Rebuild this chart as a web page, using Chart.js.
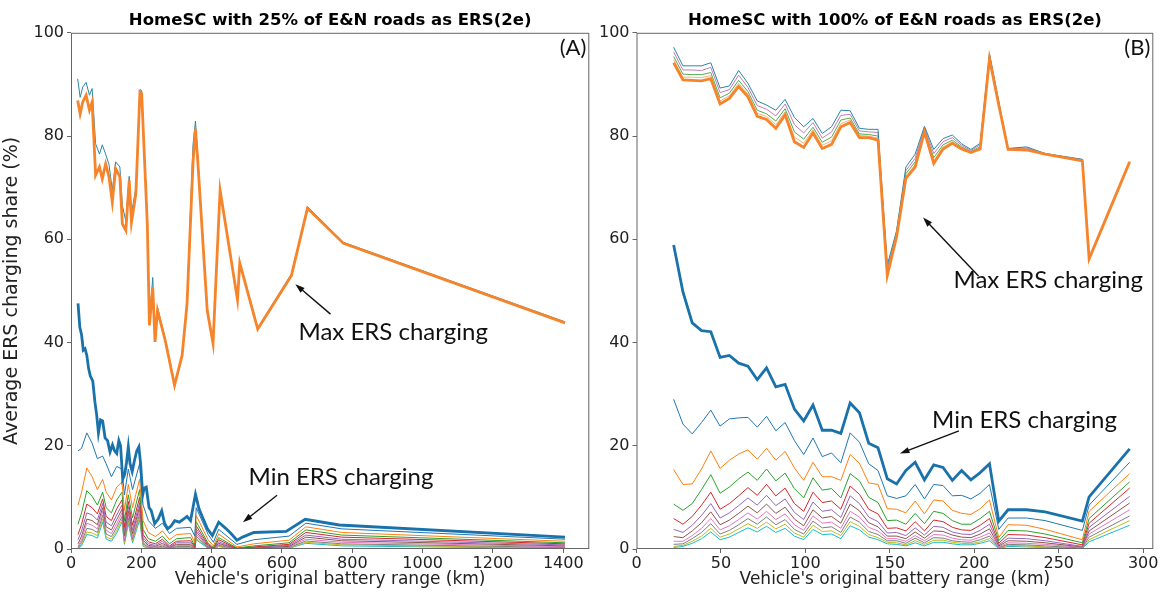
<!DOCTYPE html>
<html>
<head>
<meta charset="utf-8">
<script src="https://cdn.jsdelivr.net/npm/chart.js@4.4.1/dist/chart.umd.min.js"></script>
<style>
    body { margin: 0; background: #fff; width: 1163px; height: 592px; overflow: hidden; position: relative; }
    .panel { position: absolute; top: 0; height: 592px; }
    #panel_a { left: 0; width: 600px; }
    #panel_b { left: 595px; width: 568px; }
</style>
</head>
<body>
<div class="panel" id="panel_a"><canvas id="chart_a"></canvas></div>
<div class="panel" id="panel_b"><canvas id="chart_b"></canvas></div>
<script>

// ---- panel A : 25% of E&N roads ----
var xTicksA = [0, 200, 400, 600, 800, 1000, 1200, 1400];
var yTicks = [0, 20, 40, 60, 80, 100];

var rangeMaxA = [19, 26, 33.5, 43, 52.5, 60, 70, 81, 89, 98.5, 108, 117.5, 127, 139, 146, 156, 165.5, 172, 184.5, 196,
    201, 217, 223, 232.5, 239, 246, 268, 294.5, 316, 330, 347, 354, 361, 387.5, 404, 424, 473.5, 480, 531, 627,
    672.5, 775, 1405];
var maxA = [86.9, 84.3, 86.6, 87.9, 85.0, 86.6, 72.4, 74.0, 71.7, 74.6, 72.1, 67.2, 73.7, 72.1, 63.0, 61.7, 71.4, 63.3, 68.8, 88.5,
    88.2, 63.0, 43.3, 50.7, 40.1, 46.2, 40.4, 31.7, 37.5, 47.5, 74.9, 81.4, 74.6, 46.2, 39.8, 69.5, 48.3, 55.4, 42.6, 53.0,
    66.0, 59.2, 43.8];
var topA = [91.1, 87.5, 89.5, 90.4, 87.9, 89.2, 78.5, 76.5, 78.3, 76.5, 74.5, 69.5, 75.0, 74.0, 66.6, 63.5, 72.2, 65.0, 70.0, 89.0,
    88.8, 64.0, 44.0, 52.6, 41.0, 46.8, 40.8, 31.9, 37.7, 47.8, 78.3, 82.9, 75.5, 46.5, 40.0, 69.7, 48.5, 55.6, 42.8, 53.3,
    66.3, 59.4, 44.0];

var rangeMinA = [20, 25, 30, 35, 40, 45, 50, 55, 62, 68, 73, 78, 84, 90, 97, 104, 111, 118, 124, 130,
    136, 141, 147, 153, 158, 163, 168, 174, 180, 187, 193, 198, 204, 208, 214, 222, 228, 238, 248, 258,
    266, 275, 285, 295, 308, 320, 330, 340, 354, 364, 378, 388, 402, 420, 440, 455, 472, 488, 520, 612,
    666, 763, 1405];
var minA = [47.6, 43.0, 41.5, 38.5, 38.8, 37.5, 35.0, 33.5, 32.5, 28.5, 26.0, 22.5, 25.0, 24.8, 21.5, 21.0, 18.8, 20.2, 19.0, 18.5,
    21.0, 20.0, 13.5, 14.5, 16.8, 19.8, 16.5, 15.0, 17.0, 19.0, 19.8, 16.5, 10.5, 11.8, 12.0, 8.0, 7.5, 4.9, 5.8, 7.4,
    5.0, 3.9, 4.5, 5.5, 5.2, 5.8, 6.3, 5.5, 10.6, 7.8, 5.5, 3.9, 2.6, 5.2, 4.0, 3.0, 1.7, 2.3, 3.2, 3.4,
    5.75, 4.65, 2.3];

var rangeThinA = [20, 30, 45, 60, 75, 90, 100, 115, 130, 145, 152, 163, 175, 195, 205, 220, 240, 260, 280, 300,
    340, 352, 356, 390, 405, 420, 472, 520, 620, 668, 770, 1405];
var thinA = [
    [19.0, 19.5, 22.5, 20.5, 17.5, 18.0, 16.5, 14.0, 16.0, 15.5, 10.5, 15.5, 11.5, 16.5, 8.5, 5.5, 4.0, 5.0, 3.0, 4.0, 4.2, 2.5, 8.0, 2.8, 1.3, 3.8, 0.9, 1.8, 2.5, 5.0, 3.9, 1.9],
    [8.5, 11.0, 15.7, 14.0, 11.5, 13.5, 11.0, 9.5, 12.0, 13.0, 7.5, 12.5, 8.0, 13.5, 5.5, 3.2, 2.4, 3.5, 1.8, 2.8, 3.0, 1.2, 6.5, 1.8, 0.6, 2.9, 0.4, 1.0, 1.7, 4.3, 3.2, 1.5],
    [4.8, 7.0, 11.3, 10.2, 8.5, 11.0, 8.0, 7.0, 9.5, 11.0, 5.5, 10.5, 6.0, 11.5, 3.8, 2.0, 1.5, 2.5, 1.0, 2.0, 2.2, 0.6, 5.3, 1.1, 0.3, 2.2, 0.2, 0.6, 1.2, 3.7, 2.7, 1.2],
    [2.8, 4.8, 8.7, 8.0, 6.8, 9.7, 6.3, 5.5, 7.8, 9.5, 4.2, 9.2, 4.6, 10.0, 2.8, 1.4, 1.0, 1.9, 0.6, 1.5, 1.6, 0.4, 4.5, 0.8, 0.2, 1.8, 0.1, 0.4, 0.9, 3.2, 2.3, 1.0],
    [1.8, 3.5, 7.0, 6.6, 5.6, 8.8, 5.2, 4.5, 6.6, 8.5, 3.3, 8.2, 3.7, 9.0, 2.2, 1.0, 0.7, 1.5, 0.4, 1.2, 1.2, 0.3, 3.9, 0.6, 0.1, 1.4, 0.1, 0.3, 0.7, 2.7, 1.9, 0.8],
    [1.0, 2.5, 5.8, 5.5, 4.7, 8.0, 4.3, 3.7, 5.7, 7.7, 2.6, 7.4, 3.0, 8.2, 1.7, 0.7, 0.5, 1.1, 0.3, 0.9, 0.9, 0.2, 3.4, 0.4, 0.1, 1.1, 0.05, 0.2, 0.5, 2.3, 1.6, 0.6],
    [0.5, 1.8, 5.0, 4.6, 3.9, 7.3, 3.6, 3.0, 4.9, 7.0, 2.0, 6.7, 2.4, 7.5, 1.3, 0.5, 0.3, 0.8, 0.2, 0.7, 0.7, 0.15, 2.9, 0.3, 0.05, 0.9, 0.03, 0.15, 0.4, 1.9, 1.3, 0.45],
    [0.3, 1.3, 4.0, 3.8, 3.2, 6.5, 2.9, 2.4, 4.2, 6.3, 1.6, 6.0, 1.9, 6.8, 1.0, 0.35, 0.2, 0.6, 0.1, 0.5, 0.5, 0.1, 2.5, 0.2, 0.03, 0.7, 0.02, 0.1, 0.3, 1.55, 1.0, 0.3],
    [0.2, 0.9, 3.3, 3.1, 2.6, 5.8, 2.3, 1.9, 3.6, 5.7, 1.2, 5.4, 1.5, 6.2, 0.7, 0.25, 0.15, 0.45, 0.08, 0.35, 0.35, 0.08, 2.1, 0.15, 0.02, 0.55, 0.01, 0.08, 0.2, 1.3, 0.8, 0.2],
    [0.1, 0.6, 2.8, 2.6, 2.1, 5.2, 1.9, 1.5, 3.1, 5.2, 0.9, 4.9, 1.2, 5.6, 0.5, 0.15, 0.1, 0.3, 0.05, 0.25, 0.25, 0.05, 1.8, 0.1, 0.01, 0.45, 0.01, 0.05, 0.15, 1.1, 0.6, 0.1]
];

// ---- panel B : 100% of E&N roads ----
var xTicksB = [0, 50, 100, 150, 200, 250, 300];
var rangeB = [22, 27.5, 33, 38.5, 44, 49.5, 55, 60.5, 66, 71.5, 77, 82.5, 88, 93.5, 99, 104.5, 110, 115.5, 121, 126.5,
    132, 137.5, 143, 148.5, 154, 159.5, 165, 170.5, 176, 181.5, 187, 192.5, 198, 203.5, 209, 214.5, 220, 231, 242, 264,
    268, 292];
var maxB = [94.2, 90.9, 90.8, 90.7, 91.1, 86.2, 87.3, 89.6, 87.6, 83.8, 83.2, 81.5, 84.1, 78.9, 77.8, 80.6, 77.6, 78.4, 81.8, 82.6,
    79.7, 79.7, 79.2, 53.0, 60.5, 71.8, 74.0, 80.8, 74.7, 77.5, 78.6, 77.5, 76.8, 77.5, 95.0, 86.0, 77.4, 77.3, 76.5, 75.2,
    56.2, 75.0];
var topB = [
    [97.2, 93.6, 93.6, 93.6, 94.2, 89.3, 89.7, 92.7, 90.2, 86.8, 86.0, 85.0, 87.1, 83.6, 81.8, 83.4, 80.5, 81.8, 85.0, 84.9,
        81.5, 81.3, 81.3, 55.0, 61.7, 74.0, 76.5, 81.9, 77.4, 79.5, 80.2, 78.5, 77.4, 78.6, 96.0, 86.7, 77.6, 77.9, 76.6, 75.5, 56.2, 75.0],
    [96.3, 92.8, 92.8, 92.7, 93.3, 88.4, 89.0, 91.8, 89.4, 85.9, 85.2, 83.9, 86.2, 82.2, 80.6, 82.6, 79.6, 80.8, 84.0, 84.2,
        81.0, 80.8, 80.7, 54.4, 61.3, 73.3, 75.7, 81.6, 76.6, 78.9, 79.7, 78.2, 77.2, 78.3, 95.7, 86.5, 77.5, 77.7, 76.6, 75.4, 56.2, 75.0],
    [95.4, 92.0, 91.9, 91.9, 92.3, 87.4, 88.3, 90.8, 88.6, 85.0, 84.3, 82.9, 85.3, 80.8, 79.4, 81.7, 78.8, 79.8, 83.1, 83.5,
        80.4, 80.3, 80.0, 53.8, 61.0, 72.7, 75.0, 81.2, 75.8, 78.3, 79.2, 77.9, 77.0, 77.9, 95.4, 86.3, 77.5, 77.5, 76.5, 75.3, 56.2, 75.0],
    [94.8, 91.4, 91.4, 91.3, 91.7, 86.8, 87.8, 90.2, 88.1, 84.4, 83.8, 82.2, 84.7, 79.8, 78.6, 81.2, 78.2, 79.1, 82.4, 83.1,
        80.1, 80.0, 79.6, 53.4, 60.7, 72.2, 74.5, 81.0, 75.2, 77.9, 78.9, 77.7, 76.9, 77.7, 95.2, 86.1, 77.4, 77.4, 76.5, 75.2, 56.2, 75.0]
];
var minB = [58.9, 49.8, 43.8, 42.3, 42.1, 37.1, 37.5, 36.0, 35.4, 32.8, 35.1, 31.4, 31.9, 27.1, 24.8, 27.9, 23.0, 23.0, 22.4, 28.3,
    26.4, 20.5, 19.6, 13.6, 12.6, 15.2, 16.8, 13.4, 16.3, 15.8, 13.3, 15.2, 13.4, 14.8, 16.5, 5.4, 7.6, 7.6, 7.2, 5.4,
    10.1, 19.4];
var thinB = [
    [29.0, 24.2, 22.3, 24.5, 26.9, 23.8, 25.2, 25.4, 25.5, 23.6, 25.7, 22.9, 24.5, 21.0, 18.3, 21.5, 17.9, 18.6, 16.7, 22.5, 20.7, 16.5, 15.2, 10.3, 9.8, 10.3, 12.5, 9.7, 12.5, 12.3, 10.3, 10.4, 9.7, 10.8, 12.5, 3.8, 6.0, 6.0, 5.5, 3.6, 8.5, 16.8],
    [15.4, 12.5, 12.6, 15.5, 19.0, 15.6, 17.2, 18.4, 19.2, 17.4, 19.5, 17.2, 18.9, 15.7, 13.3, 16.8, 14.0, 14.0, 13.3, 18.3, 16.6, 12.8, 12.5, 7.8, 7.7, 7.0, 9.3, 6.8, 9.5, 9.3, 7.5, 6.9, 6.7, 7.8, 9.5, 2.2, 4.7, 4.6, 3.8, 1.8, 7.3, 14.6],
    [8.7, 7.5, 8.8, 11.5, 14.4, 10.8, 12.0, 13.6, 14.9, 13.3, 15.5, 13.2, 14.7, 11.7, 9.9, 13.8, 11.4, 11.7, 9.9, 14.6, 13.2, 10.0, 9.0, 5.5, 5.6, 4.8, 6.9, 4.9, 7.3, 6.9, 5.5, 4.8, 4.8, 5.9, 7.3, 1.6, 3.6, 3.5, 2.9, 1.2, 5.9, 13.0],
    [5.9, 4.8, 6.3, 8.5, 11.0, 7.7, 8.8, 10.3, 11.9, 10.4, 12.5, 10.3, 11.8, 8.8, 7.3, 11.0, 9.0, 9.3, 7.7, 12.2, 10.6, 7.7, 6.8, 4.0, 4.1, 3.5, 5.3, 3.5, 5.6, 5.3, 4.2, 3.7, 3.6, 4.6, 5.9, 1.1, 2.8, 2.7, 2.2, 0.8, 5.0, 11.8],
    [3.8, 3.2, 4.6, 6.5, 8.8, 6.0, 7.0, 8.4, 9.9, 8.5, 10.4, 8.4, 9.7, 7.1, 5.7, 9.1, 7.3, 7.6, 6.1, 10.3, 8.8, 6.2, 5.3, 3.1, 3.2, 2.6, 4.1, 2.7, 4.4, 4.2, 3.3, 2.9, 2.8, 3.6, 4.8, 0.8, 2.1, 2.0, 1.6, 0.5, 4.2, 10.2],
    [2.4, 2.2, 3.5, 5.1, 7.2, 4.7, 5.6, 6.9, 8.3, 7.0, 8.7, 6.9, 8.1, 5.8, 4.5, 7.6, 6.0, 6.3, 5.0, 8.7, 7.4, 5.1, 4.3, 2.5, 2.5, 2.0, 3.3, 2.1, 3.5, 3.4, 2.7, 2.3, 2.2, 2.9, 3.9, 0.6, 1.6, 1.5, 1.2, 0.4, 3.5, 8.9],
    [1.5, 1.5, 2.6, 4.0, 5.9, 3.7, 4.5, 5.7, 7.0, 5.8, 7.3, 5.7, 6.8, 4.7, 3.6, 6.4, 5.0, 5.2, 4.0, 7.3, 6.2, 4.2, 3.5, 2.0, 2.0, 1.5, 2.6, 1.6, 2.8, 2.7, 2.1, 1.8, 1.7, 2.3, 3.1, 0.4, 1.2, 1.1, 0.9, 0.3, 2.9, 7.6],
    [0.9, 1.0, 2.0, 3.2, 4.9, 2.9, 3.6, 4.7, 5.9, 4.8, 6.2, 4.7, 5.7, 3.8, 2.9, 5.4, 4.1, 4.3, 3.2, 6.2, 5.2, 3.4, 2.8, 1.6, 1.6, 1.1, 2.1, 1.2, 2.2, 2.1, 1.6, 1.4, 1.3, 1.8, 2.5, 0.3, 0.9, 0.8, 0.6, 0.2, 2.3, 6.4],
    [0.5, 0.7, 1.5, 2.5, 4.0, 2.3, 2.9, 3.9, 4.9, 4.0, 5.2, 3.9, 4.8, 3.1, 2.3, 4.6, 3.4, 3.5, 2.6, 5.3, 4.4, 2.8, 2.2, 1.3, 1.2, 0.8, 1.6, 0.9, 1.7, 1.7, 1.3, 1.1, 1.0, 1.4, 2.0, 0.2, 0.7, 0.6, 0.4, 0.1, 1.8, 5.5],
    [0.3, 0.5, 1.1, 2.0, 3.3, 1.8, 2.3, 3.2, 4.1, 3.3, 4.4, 3.2, 4.0, 2.5, 1.8, 3.8, 2.8, 2.9, 2.0, 4.5, 3.7, 2.3, 1.8, 1.0, 0.9, 0.6, 1.2, 0.6, 1.3, 1.3, 1.0, 0.8, 0.8, 1.1, 1.6, 0.1, 0.5, 0.4, 0.3, 0.1, 1.4, 4.6]
];

var tabColors = ['#1f77b4', '#ff7f0e', '#2ca02c', '#d62728', '#9467bd', '#8c564b', '#e377c2', '#7f7f7f', '#bcbd22', '#17becf'];
var topColors = ['#2a86a6', '#c27bb8', '#4fae4f', '#f6b27a'];

function points(xs, ys) {
    return xs.map(function (x, i) { return {x: x, y: ys[i]}; });
}

function thickLine(xs, ys, color) {
    return {data: points(xs, ys), borderColor: color, borderWidth: 2.8, order: 0};
}

function thinLine(xs, ys, color) {
    return {data: points(xs, ys), borderColor: color, borderWidth: 1, order: 1};
}

// arrow + text notes, frame and panel letter
var notesPlugin = {
    id: 'notes',
    afterDatasetsDraw: function (chart, args, opts) {
        var ctx = chart.ctx, area = chart.chartArea;
        var sx = chart.scales.x, sy = chart.scales.y;
        ctx.save();
        ctx.strokeStyle = '#666';
        ctx.lineWidth = 1;
        ctx.strokeRect(area.left + 0.5, area.top + 0.5, area.right - area.left - 1, area.bottom - area.top - 1);

        ctx.fillStyle = '#111';
        ctx.font = '22px Lato';
        ctx.textAlign = 'right';
        ctx.textBaseline = 'middle';
        ctx.fillText(opts.letter, area.right - 3, area.top + 15);

        ctx.font = opts.font;
        ctx.textAlign = 'left';
        opts.labels.forEach(function (l) {
            ctx.fillText(l.text, sx.getPixelForValue(l.x), sy.getPixelForValue(l.y));
        });

        ctx.strokeStyle = '#111';
        ctx.lineWidth = 1.4;
        opts.arrows.forEach(function (a) {
            var x1 = sx.getPixelForValue(a.from[0]), y1 = sy.getPixelForValue(a.from[1]);
            var x2 = sx.getPixelForValue(a.to[0]), y2 = sy.getPixelForValue(a.to[1]);
            var ang = Math.atan2(y2 - y1, x2 - x1), h = 10;
            ctx.beginPath();
            ctx.moveTo(x1, y1);
            ctx.lineTo(x2 - 6 * Math.cos(ang), y2 - 6 * Math.sin(ang));
            ctx.stroke();
            ctx.beginPath();
            ctx.moveTo(x2, y2);
            ctx.lineTo(x2 - h * Math.cos(ang - 0.32), y2 - h * Math.sin(ang - 0.32));
            ctx.lineTo(x2 - h * Math.cos(ang + 0.32), y2 - h * Math.sin(ang + 0.32));
            ctx.closePath();
            ctx.fill();
        });
        ctx.restore();
    }
};

function makeOptions(cfg) {
    return {
        responsive: true,
        maintainAspectRatio: false,
        animation: false,
        layout: {padding: {left: 0, right: cfg.padRight, top: 0, bottom: 0}},
        elements: {point: {radius: 0}, line: {tension: 0}},
        plugins: {
            legend: {display: false},
            tooltip: {enabled: false},
            title: {
                display: true,
                text: cfg.title,
                fullSize: false,
                color: '#000',
                font: {family: 'DejaVu Sans', size: 16.5, weight: 'bold'},
                padding: {top: 11, bottom: 2}
            },
            notes: cfg.notes
        },
        scales: {
            x: {
                type: 'linear',
                min: 0,
                max: cfg.xMax,
                afterBuildTicks: function (scale) {
                    scale.ticks = cfg.xTicks.map(function (v) { return {value: v}; });
                },
                afterFit: function (scale) { scale.height = 43; },
                grid: {drawOnChartArea: false, drawTicks: true, tickLength: 4, color: '#666'},
                border: {display: false},
                ticks: {
                    color: '#222', padding: 1, maxRotation: 0,
                    font: {family: 'DejaVu Sans', size: 16},
                    callback: function (v) { return String(v); }
                },
                title: {
                    display: true,
                    text: "Vehicle's original battery range (km)",
                    color: '#222',
                    font: {family: 'DejaVu Sans', size: 17},
                    padding: {top: 0, bottom: 2}
                }
            },
            y: {
                min: 0,
                max: 100,
                afterBuildTicks: function (scale) {
                    scale.ticks = yTicks.map(function (v) { return {value: v}; });
                },
                afterFit: function (scale) { scale.width = cfg.yWidth; },
                grid: {drawOnChartArea: false, drawTicks: true, tickLength: 4, color: '#666'},
                border: {display: false},
                ticks: {color: '#222', padding: 3, font: {family: 'DejaVu Sans', size: 16}},
                title: {
                    display: cfg.yTitle,
                    text: 'Average ERS charging share (%)',
                    color: '#222',
                    font: {family: 'DejaVu Sans', size: 19},
                    padding: {top: 1, bottom: 0}
                }
            }
        }
    };
}

var datasetsA = [thickLine(rangeMaxA, maxA, '#f5842a'), thickLine(rangeMinA, minA, '#1a72ab'),
    thinLine(rangeMaxA, topA, topColors[0])];
thinA.forEach(function (ys, i) { datasetsA.push(thinLine(rangeThinA, ys, tabColors[i])); });

var datasetsB = [thickLine(rangeB, maxB, '#f5842a'), thickLine(rangeB, minB, '#1a72ab')];
topB.forEach(function (ys, i) { datasetsB.push(thinLine(rangeB, ys, topColors[i])); });
thinB.forEach(function (ys, i) { datasetsB.push(thinLine(rangeB, ys, tabColors[i])); });

var chartA = new Chart(document.getElementById('chart_a'), {
    type: 'line',
    data: {datasets: datasetsA},
    options: makeOptions({
        title: 'HomeSC with 25% of E&N roads as ERS(2e)',
        xMax: 1474, xTicks: xTicksA, padRight: 10.7, yWidth: 71, yTitle: true,
        notes: {
            letter: '(A)',
            font: '24px Lato',
            labels: [{text: 'Max ERS charging', x: 647, y: 42}, {text: 'Min ERS charging', x: 505, y: 13.9}],
            arrows: [{from: [738, 45.5], to: [638, 51.3]}, {from: [586, 10.4], to: [489, 5.2]}]
        }
    }),
    plugins: [notesPlugin]
});

var chartB = new Chart(document.getElementById('chart_b'), {
    type: 'line',
    data: {datasets: datasetsB},
    options: makeOptions({
        title: 'HomeSC with 100% of E&N roads as ERS(2e)',
        xMax: 306, xTicks: xTicksB, padRight: 9.7, yWidth: 41.5, yTitle: false,
        notes: {
            letter: '(B)',
            font: '24px Lato',
            labels: [{text: 'Max ERS charging', x: 187.7, y: 52.0}, {text: 'Min ERS charging', x: 175, y: 25.0}],
            arrows: [{from: [202.5, 52.9], to: [169.7, 64.2]}, {from: [190.9, 22.9], to: [156, 18.5]}]
        }
    }),
    plugins: [notesPlugin]
});

</script>
</body>
</html>
